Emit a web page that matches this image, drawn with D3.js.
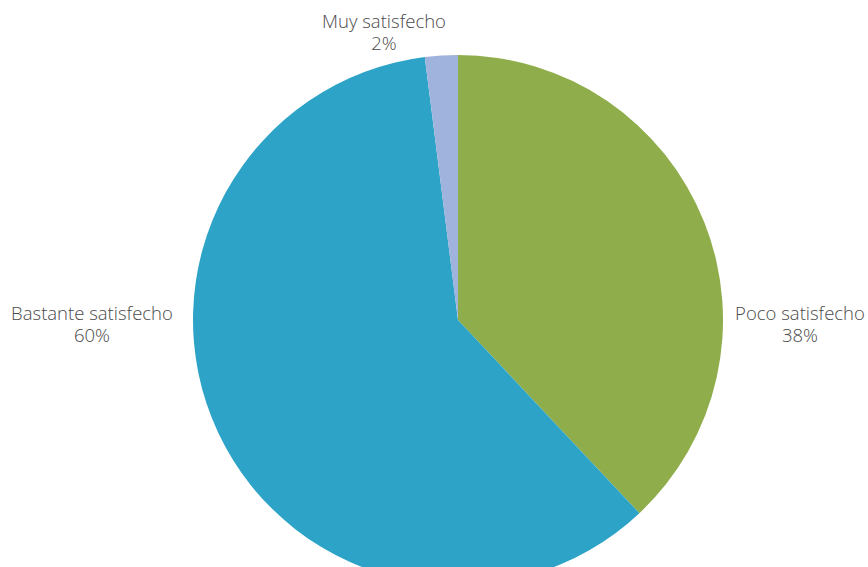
<!DOCTYPE html>
<html>
<head>
<meta charset="utf-8">
<script src="https://cdn.jsdelivr.net/npm/d3@7"></script>
<style>
  html, body { margin: 0; padding: 0; background: #ffffff; }
  svg { display: block; }
  .lbl { font-family: "Open Sans", "DejaVu Sans", sans-serif; font-weight: 300; fill: #4a4a4a; font-size: 18.5px; }
</style>
</head>
<body>
<svg id="chart" width="868" height="567"></svg>
<script>
// Satisfaction levels and their shares (percent)
const categories = ["Poco satisfecho", "Bastante satisfecho", "Muy satisfecho"];
const values = [38, 60, 2];
const colors = ["#8fae4b", "#2ca3c7", "#9fb3dc"];

const cx = 458, cy = 320, radius = 265;
const lineGap = 22;

const svg = d3.select("#chart");
const g = svg.append("g").attr("transform", `translate(${cx},${cy})`);

const data = categories.map((c, i) => ({ name: c, value: values[i], color: colors[i] }));

const pie = d3.pie().value(d => d.value).sort(null);
const arc = d3.arc().innerRadius(0).outerRadius(radius);
const arcs = pie(data);

g.selectAll("path.slice")
  .data(arcs)
  .join("path")
  .attr("class", "slice")
  .attr("d", arc)
  .attr("fill", d => d.data.color);

// Label anchors: right of the pie, left of the pie, above the pie
const labelPos = {
  "Poco satisfecho":     [radius + 77, 0],
  "Bastante satisfecho": [-radius - 101, 0],
  "Muy satisfecho":      [-74, -radius - 27]
};

const labelGroups = g.selectAll("g.label")
  .data(arcs)
  .join("g")
  .attr("class", "label")
  .attr("transform", d => `translate(${labelPos[d.data.name][0]},${labelPos[d.data.name][1]})`);

labelGroups.append("text")
  .attr("class", "lbl")
  .attr("text-anchor", "middle")
  .text(d => d.data.name);

labelGroups.append("text")
  .attr("class", "lbl")
  .attr("text-anchor", "middle")
  .attr("y", lineGap)
  .text(d => d3.format(".0f")(d.data.value) + "%");
</script>
</body>
</html>
